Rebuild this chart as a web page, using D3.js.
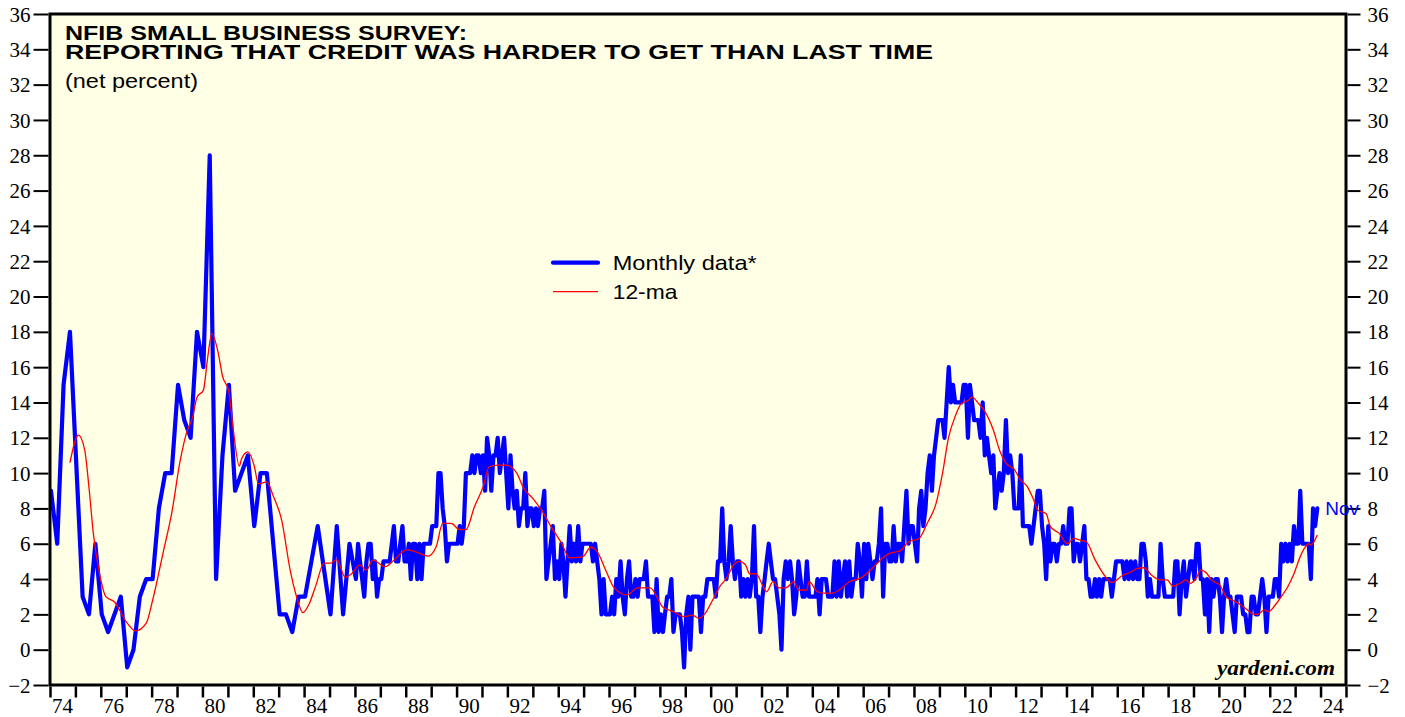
<!DOCTYPE html>
<html><head><meta charset="utf-8">
<script src="https://cdn.jsdelivr.net/npm/d3@7"></script>
<style>body{margin:0;background:#fff}svg{display:block}</style>
</head><body><svg id="c" width="1405" height="717"></svg>
<script>
// ---- DATA ----
// Quarterly survey (1974-1985), value reported in the first month of the quarter
const quarterDates = ["1974-01","1974-04","1974-07","1974-10","1975-04","1975-07","1975-10",
  "1976-01","1976-04","1976-10","1977-01","1977-04","1977-07","1977-10",
  "1978-01","1978-04","1978-07","1978-10","1979-01","1979-04","1979-07","1979-10",
  "1980-01","1980-04","1980-07","1980-10","1981-01","1981-04","1981-10",
  "1982-01","1982-04","1982-07","1983-01","1983-04","1983-07","1983-10",
  "1984-01","1984-07","1985-01","1985-04","1985-07","1985-10"];
const quarterValues = [9,6,15,18,3,2,6, 2,1,3,-1,0,3,4, 4,8,10,10,15,13,12,18,
  16,28,4,11,15,9,11, 7,10,10,2,2,1,3, 3,7,2,7,2,6];

// Monthly survey, Jan 1986 .. Nov 2023
const monthlyStart = "1986-01";
const monthlyValues = [
  4,6,5,4,3,5,6,6,4,5,3,4,        // 1986
  4,5,5,5,5,6,7,5,5,6,7,5,        // 1987
  5,6,4,6,6,4,6,4,6,6,6,6,        // 1988
  7,7,7,10,10,8,7,5,6,6,6,6,      // 1989
  6,7,6,7,10,10,10,11,10,11,11,10,// 1990
  11,9,12,11,9,11,11,12,10,11,12,10,// 1991
  8,11,9,8,9,7,8,8,10,7,8,8,      // 1992
  7,8,7,8,8,9,4,5,6,7,4,5,        // 1993
  4,6,5,3,5,7,5,6,5,7,5,6,        // 1994
  6,6,6,6,5,6,5,4,2,4,2,2,        // 1995
  2,3,2,4,3,5,3,2,4,5,3,3,        // 1996
  4,3,4,4,4,5,3,3,3,1,4,1,        // 1997
  2,1,2,3,3,4,1,2,2,2,1,-1,       // 1998
  2,3,0,3,3,3,3,1,3,3,4,4,        // 1999
  4,4,3,5,5,8,5,4,5,7,5,4,        // 2000
  5,5,3,4,3,4,3,4,7,3,3,1,        // 2001
  3,4,5,6,5,4,4,3,2,0,4,5,        // 2002
  4,5,4,2,3,5,4,3,3,5,3,3,        // 2003
  3,3,4,2,4,4,4,3,3,3,5,3,        // 2004
  5,3,4,5,3,5,3,4,4,6,5,3,        // 2005
  6,4,6,5,4,5,5,6,8,3,6,6,        // 2006
  5,5,7,5,6,6,5,7,9,6,7,7,        // 2007
  6,5,8,9,7,8,10,11,9,11,12,13,   // 2008
  13,13,12,14,16,14,15,14,14,14,14,15, // 2009
  15,12,15,14,13,13,13,12,14,11,12,11, // 2010
  10,11,8,9,10,9,10,13,10,11,10,8,// 2011
  8,8,11,7,7,7,7,6,7,8,9,9,       // 2012
  7,6,4,7,5,6,6,5,6,6,7,6,        // 2013
  6,8,8,5,6,6,5,6,7,4,4,3,        // 2014
  3,4,3,4,3,4,4,4,4,3,4,5,        // 2015
  5,5,5,4,5,4,5,4,5,4,4,6,        // 2016
  6,5,3,4,3,3,3,3,6,4,3,3,        // 2017
  3,3,3,5,5,2,4,5,3,4,5,5,        // 2018
  4,6,6,4,4,2,4,1,4,3,4,4,        // 2019
  3,1,3,4,3,3,2,1,3,3,3,2,        // 2020
  2,1,1,3,3,2,2,3,4,3,1,3,        // 2021
  3,3,4,4,3,6,5,6,5,6,5,7,        // 2022
  6,6,9,6,6,6,6,4,8,7,8           // 2023 (to Nov)
];

// 12-month moving average
const maDates = ["1974-10","1975-02","1975-05","1975-07","1975-09","1975-12","1976-03","1976-07",
  "1977-01","1977-05","1977-10","1978-01","1978-06","1978-10","1979-02","1979-05","1979-08","1979-10",
  "1980-01","1980-03","1980-05","1980-08","1980-10","1981-01","1981-03","1981-06","1981-07","1981-10",
  "1982-01","1982-03","1982-07","1982-10","1983-02","1983-06","1983-09","1983-12","1984-03","1984-06",
  "1984-10","1985-01","1985-04","1985-08","1985-11","1986-03","1986-06","1986-09","1987-03","1987-07",
  "1988-01","1988-05","1988-11","1989-03","1989-06","1989-10","1990-02","1990-05","1990-09","1991-01",
  "1991-04","1991-08","1991-12","1992-05","1992-08","1993-01","1993-05","1993-09","1994-02","1994-06",
  "1994-12","1995-04","1995-07","1995-11","1996-03","1996-09","1997-02","1997-08","1998-02","1998-07",
  "1998-12","1999-04","1999-07","1999-10","2000-01","2000-05","2000-08","2000-12","2001-02","2001-05",
  "2001-07","2001-10","2002-01","2002-03","2002-06","2002-09","2002-12","2003-04","2003-06","2003-10",
  "2003-11","2004-03","2004-06","2004-10","2005-02","2005-06","2005-11","2006-04","2006-08","2007-01",
  "2007-06","2007-10","2008-03","2008-07","2008-11","2009-02","2009-05","2009-08","2009-11","2010-02",
  "2010-04","2010-07","2010-10","2011-02","2011-05","2011-08","2011-12","2012-03","2012-06","2012-09",
  "2012-11","2013-03","2013-05","2013-09","2014-01","2014-04","2014-07","2014-10","2015-02","2015-06",
  "2015-10","2016-03","2016-07","2016-10","2017-01","2017-05","2017-09","2017-12","2018-03","2018-06",
  "2018-09","2018-11","2019-02","2019-04","2019-07","2019-09","2020-01","2020-04","2020-07","2020-10",
  "2021-02","2021-05","2021-07","2021-10","2021-12","2022-03","2022-06","2022-09","2022-12","2023-03",
  "2023-05","2023-07","2023-08","2023-11"];
const maValues = [10.6,12.15,11.3,9.2,6.6,4.3,3.0,2.7,
  1.5,1.06,1.5,2.8,5.5,7.7,10.7,12.25,13.2,14.3,
  14.7,16.5,17.9,16.8,15.5,14.6,12.6,10.4,10.8,11.2,
  10.4,9.4,9.5,8.7,7.3,4.5,3.0,2.1,2.6,3.6,
  4.9,4.9,5.1,4.1,4.3,4.8,4.5,5.07,4.7,5.07,
  5.65,5.55,5.3,5.85,7.15,7.15,6.8,6.8,8.1,9.2,
  10.36,10.45,10.45,10.0,9.2,8.5,7.85,7.0,6.05,5.2,
  5.25,5.8,5.55,4.5,3.5,3.1,3.5,3.5,2.4,2.15,
  1.87,1.96,1.77,2.06,2.7,3.6,4.04,4.9,5.0,4.8,
  4.3,4.3,3.66,3.28,3.85,3.5,3.5,3.85,3.38,3.38,
  3.85,3.28,3.2,3.2,3.45,3.85,4.04,4.5,5.0,5.45,
  5.6,6.1,6.3,7.2,8.3,10.0,12.06,13.2,13.95,14.1,
  14.3,13.95,13.5,12.44,11.3,10.56,10.2,9.6,9.25,8.5,
  7.9,7.7,6.97,6.6,6.0,6.3,6.2,6.1,5.1,4.3,
  3.8,4.2,4.4,4.6,4.64,4.2,3.95,3.95,3.6,3.75,
  3.95,3.75,4.1,4.5,4.3,3.95,3.66,3.0,2.8,2.6,
  2.25,2.0,2.0,2.25,2.15,2.5,3.0,3.55,4.3,5.27,
  5.75,6.0,5.93,6.5];

const yTickValues = [-2,0,2,4,6,8,10,12,14,16,18,20,22,24,26,28,30,32,34,36];
const xLabelYears = [1974,1976,1978,1980,1982,1984,1986,1988,1990,1992,1994,1996,1998,2000,
  2002,2004,2006,2008,2010,2012,2014,2016,2018,2020,2022,2024];
const titleLines = ["NFIB SMALL BUSINESS SURVEY:", "REPORTING THAT CREDIT WAS HARDER TO GET THAN LAST TIME"];
const subtitle = "(net percent)";
const legendLabels = ["Monthly data*", "12-ma"];
const lastLabel = "Nov";
const sourceLabel = "yardeni.com";

// ---- BUILD ----
const parseYM = d3.timeParse("%Y-%m");
const mid = d => { const t = parseYM(d); return new Date(t.getFullYear(), t.getMonth(), 15); };

const series = quarterDates.map((d, i) => ({date: mid(d), value: quarterValues[i]}));
const ms = parseYM(monthlyStart);
monthlyValues.forEach((v, i) => series.push({date: new Date(ms.getFullYear(), ms.getMonth() + i, 15), value: v}));
const maSeries = maDates.map((d, i) => ({date: mid(d), value: maValues[i]}));

const L = 50, R = 1346, T = 14, B = 685;
const svg = d3.select("#c");
const x = d3.scaleTime().domain([new Date(1974,0,1), new Date(2025,0,1)]).range([L, R]);
const y = d3.scaleLinear().domain([-2, 36]).range([B, T]);

svg.append("rect").attr("width", 1405).attr("height", 717).attr("fill", "#fff");
svg.append("rect").attr("x", L).attr("y", T).attr("width", R - L).attr("height", B - T).attr("fill", "#FFFFE5");

svg.append("defs").append("clipPath").attr("id", "clip")
  .append("rect").attr("x", L).attr("y", T).attr("width", R - L).attr("height", B - T);

const g = svg.append("g").attr("clip-path", "url(#clip)");
g.append("path").datum(series)
  .attr("d", d3.line().x(d => x(d.date)).y(d => y(d.value)))
  .attr("fill", "none").attr("stroke", "#0000FF").attr("stroke-width", 4.2)
  .attr("stroke-linejoin", "round").attr("stroke-linecap", "round");
g.append("path").datum(maSeries)
  .attr("d", d3.line().curve(d3.curveMonotoneX).x(d => x(d.date)).y(d => y(d.value)))
  .attr("fill", "none").attr("stroke", "#FF0000").attr("stroke-width", 1.3);

// border
svg.append("rect").attr("x", L).attr("y", T).attr("width", R - L).attr("height", B - T)
  .attr("fill", "none").attr("stroke", "#000").attr("stroke-width", 3);

// axes
const serif = "'Liberation Serif','Times New Roman',serif";
const sans = "'Liberation Sans',Arial,sans-serif";
const axL = svg.append("g").attr("transform", `translate(${L - 1.5},0)`)
  .call(d3.axisLeft(y).tickValues(yTickValues).tickSize(15).tickPadding(3).tickFormat(d3.format("d")));
const axR = svg.append("g").attr("transform", `translate(${R + 1.5},0)`)
  .call(d3.axisRight(y).tickValues(yTickValues).tickSize(13).tickPadding(7).tickFormat(d3.format("d")));
[axL, axR].forEach(a => {
  a.select(".domain").remove();
  a.selectAll(".tick line").attr("stroke", "#000").attr("stroke-width", 2);
  a.selectAll(".tick text").attr("font-family", serif).attr("font-size", 21).attr("fill", "#000").attr("dy", "0.34em");
});
const axB = svg.append("g").attr("transform", `translate(0,${B + 1.5})`)
  .call(d3.axisBottom(x).ticks(d3.timeYear.every(1)).tickSize(11).tickFormat(""));
axB.select(".domain").remove();
axB.selectAll(".tick line").attr("stroke", "#000").attr("stroke-width", 2.5);
svg.append("g").selectAll("text").data(xLabelYears).join("text")
  .attr("x", d => x(new Date(d, 6, 1))).attr("y", 713)
  .attr("text-anchor", "middle").attr("font-family", serif).attr("font-size", 21)
  .text(d => String(d % 100).padStart(2, "0"));

// title block (one text element, two lines)
const title = svg.append("text").attr("font-family", sans).attr("font-weight", "bold").attr("font-size", 21);
title.append("tspan").attr("x", 65).attr("y", 40)
  .attr("textLength", 402).attr("lengthAdjust", "spacingAndGlyphs").text(titleLines[0]);
title.append("tspan").attr("x", 65).attr("y", 58.5)
  .attr("textLength", 868).attr("lengthAdjust", "spacingAndGlyphs").text(titleLines[1]);
svg.append("text").attr("x", 65).attr("y", 87.5).attr("font-family", sans)
  .attr("font-size", 20).attr("textLength", 133).attr("lengthAdjust", "spacingAndGlyphs").text(subtitle);

// legend
svg.append("line").attr("x1", 553).attr("x2", 598).attr("y1", 262.7).attr("y2", 262.7)
  .attr("stroke", "#0000FF").attr("stroke-width", 4.2).attr("stroke-linecap", "round");
svg.append("text").attr("x", 612.7).attr("y", 270).attr("font-family", sans).attr("font-size", 21)
  .attr("textLength", 144).attr("lengthAdjust", "spacingAndGlyphs").text(legendLabels[0]);
svg.append("line").attr("x1", 553).attr("x2", 598).attr("y1", 291.7).attr("y2", 291.7)
  .attr("stroke", "#FF0000").attr("stroke-width", 1.3);
svg.append("text").attr("x", 612.7).attr("y", 299).attr("font-family", sans).attr("font-size", 21)
  .attr("textLength", 64.7).attr("lengthAdjust", "spacingAndGlyphs").text(legendLabels[1]);

// source + last label
svg.append("text").attr("x", 1335).attr("y", 675).attr("text-anchor", "end").attr("font-family", serif)
  .attr("font-weight", "bold").attr("font-style", "italic").attr("font-size", 22)
  .attr("textLength", 118).attr("lengthAdjust", "spacingAndGlyphs").text(sourceLabel);
const last = series[series.length - 1];
svg.append("text").attr("x", x(last.date) + 8).attr("y", y(last.value) + 7).attr("font-family", sans)
  .attr("font-size", 19).attr("fill", "#0000FF").text(lastLabel);
</script></body></html>
